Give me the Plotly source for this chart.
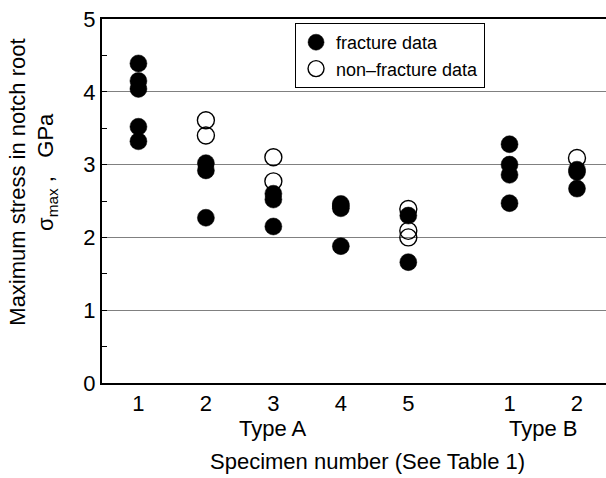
import plotly.graph_objects as go

# Specimen positions on x (Type A: 1-5, Type B: 1-2)
positions = [1, 2, 3, 4, 5, 6.5, 7.5]
tick_labels = ["1", "2", "3", "4", "5", "1", "2"]

# fracture data (filled)
frac_x = [1, 1, 1, 1, 1,
          2, 2, 2,
          3, 3, 3,
          4, 4, 4, 4,
          5, 5,
          6.5, 6.5, 6.5, 6.5,
          7.5, 7.5, 7.5]
frac_y = [4.39, 4.15, 4.04, 3.52, 3.32,
          3.02, 2.92, 2.27,
          2.60, 2.52, 2.15,
          2.46, 2.43, 2.40, 1.88,
          2.30, 1.66,
          3.28, 3.00, 2.86, 2.47,
          2.93, 2.90, 2.67]

# non-fracture data (open)
nonfrac_x = [2, 2, 3, 3, 5, 5, 5, 7.5]
nonfrac_y = [3.61, 3.40, 3.10, 2.77, 2.39, 2.09, 2.00, 3.09]

FONT = "Liberation Sans, Arial, sans-serif"

fig = go.Figure()
fig.add_trace(go.Scatter(
    x=nonfrac_x, y=nonfrac_y, mode="markers", name="non\u2013fracture data",
    legendrank=2,
    marker=dict(symbol="circle-open", size=17, color="black", line=dict(width=1.4, color="black")),
))
fig.add_trace(go.Scatter(
    x=frac_x, y=frac_y, mode="markers", name="fracture data",
    legendrank=1,
    marker=dict(symbol="circle", size=17, color="black", line=dict(width=0.5, color="black")),
))

fig.update_layout(
    width=606, height=478,
    margin=dict(l=102, r=0, t=19, b=95),
    paper_bgcolor="white", plot_bgcolor="white",
    font=dict(family=FONT, size=22, color="black"),
    showlegend=True,
    legend=dict(
        x=0.383, y=0.989, xanchor="left", yanchor="top",
        bordercolor="black", borderwidth=1, bgcolor="white",
        font=dict(size=18, family=FONT),
        tracegroupgap=0,
    ),
    xaxis=dict(
        range=[0.46, 7.93], tickvals=positions, ticktext=tick_labels,
        showgrid=False, zeroline=False, showline=True, linecolor="black",
        linewidth=2, mirror=True, ticks="", tickfont=dict(size=22),
    ),
    yaxis=dict(
        range=[0, 5], tickvals=[0, 1, 2, 3, 4, 5], showgrid=True,
        gridcolor="#808080", gridwidth=1.3, zeroline=False, showline=True,
        linecolor="black", linewidth=2, ticks="inside", ticklen=5,
        tickcolor="black", tickwidth=1, tickfont=dict(size=22),
        minor=dict(dtick=0.5, ticks="inside", ticklen=5, tickcolor="black",
                   tickwidth=1, showgrid=False),
    ),
)

fig.add_annotation(text="Type A", x=3, y=-0.124, xref="x", yref="paper",
                   showarrow=False, xanchor="center", yanchor="middle",
                   font=dict(size=22))
fig.add_annotation(text="Type B", x=7, y=-0.124, xref="x", yref="paper",
                   showarrow=False, xanchor="center", yanchor="middle",
                   font=dict(size=22))
fig.add_annotation(text="Specimen number (See Table 1)", x=0.526, y=-0.215,
                   xref="paper", yref="paper", showarrow=False,
                   xanchor="center", yanchor="middle", font=dict(size=22))
fig.add_annotation(text="Maximum stress in notch root", x=-0.1667, y=0.553,
                   xref="paper", yref="paper", showarrow=False, textangle=-90,
                   xanchor="center", yanchor="middle", font=dict(size=22))
fig.add_annotation(text="\u03c3<sub>max</sub> ,&nbsp;&nbsp;&nbsp;GPa", x=-0.109, y=0.58,
                   xref="paper", yref="paper", showarrow=False, textangle=-90,
                   xanchor="center", yanchor="middle", font=dict(size=22))

fig.write_html("out.html")
